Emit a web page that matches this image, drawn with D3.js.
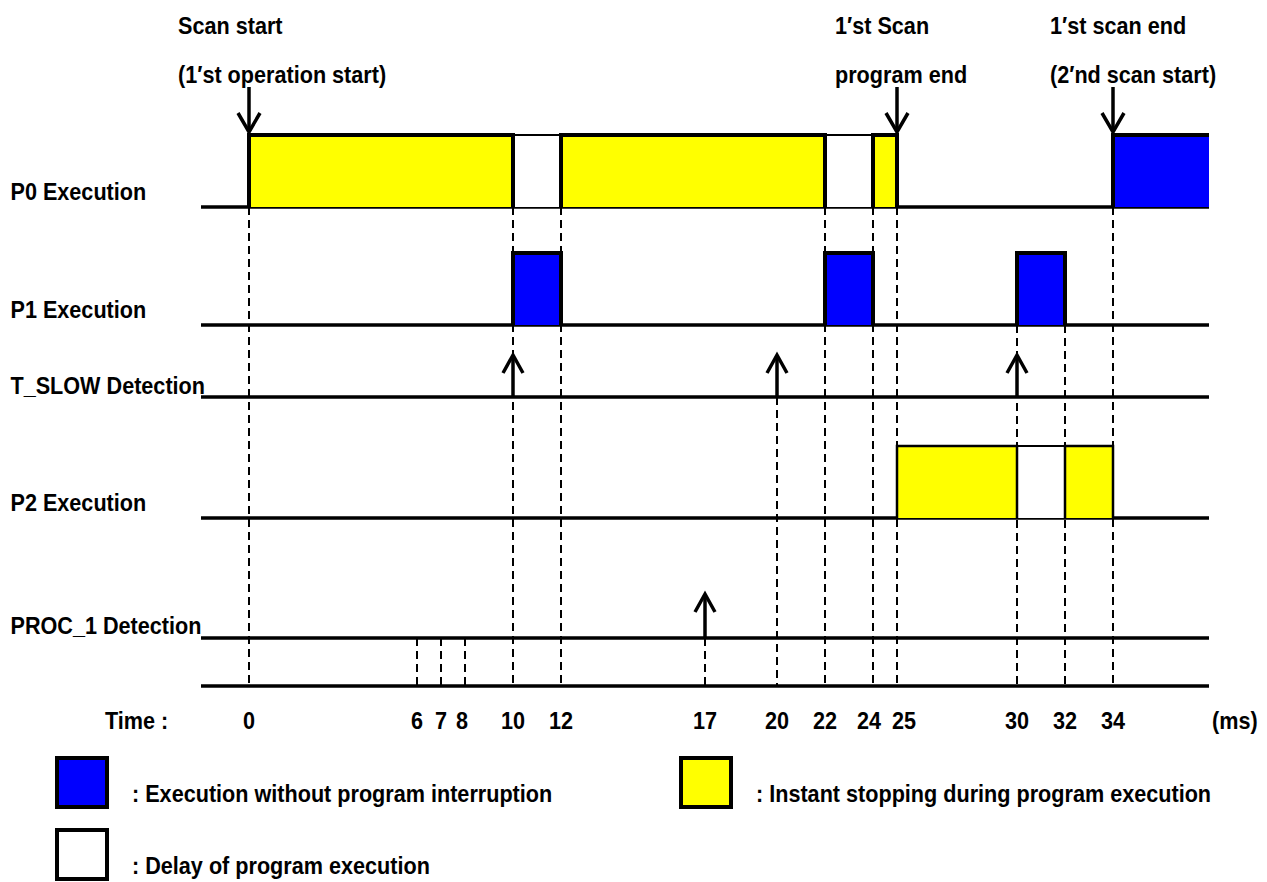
<!DOCTYPE html>
<html>
<head>
<meta charset="utf-8">
<script src="https://cdn.jsdelivr.net/npm/d3@7"></script>
<style>
  html, body { margin: 0; padding: 0; background: #fff; }
  svg text { font-family: "Liberation Sans", Arial, sans-serif; font-weight: bold; fill: #000; }
</style>
</head>
<body>
<svg id="chart" width="1267" height="882"></svg>
<script>
// ---------- data ----------
const rowNames = ["P0 Execution", "P1 Execution", "T_SLOW Detection", "P2 Execution", "PROC_1 Detection"];
const tickTimes = [0, 6, 7, 8, 10, 12, 17, 20, 22, 24, 25, 30, 32, 34];
const timeLabel = "Time :";
const unitLabel = "(ms)";

// blocks: [start, end, kind]  kind: run = blue, stop = yellow, delay = white
const p0Blocks = [[0, 10, "stop"], [10, 12, "delay"], [12, 22, "stop"], [22, 24, "delay"], [24, 25, "stop"], [34, 38, "run"]];
const p1Blocks = [[10, 12, "run"], [22, 24, "run"], [30, 32, "run"]];
const p2Blocks = [[25, 30, "stop"], [30, 32, "delay"], [32, 34, "stop"]];

const tslowEvents = [10, 20, 30];
const proc1Events = [17];

const markerTimes = [0, 25, 34];
const markerLines = [["Scan start", "(1\u2032st operation start)"], ["1\u2032st Scan", "program end"], ["1\u2032st scan end", "(2\u2032nd scan start)"]];

// dashed guide lines, grouped by the row they start from
const guidesFromP0 = [0, 10, 12, 22, 24, 25, 34];
const guidesFromP1 = [30, 32];
const guidesFromTslow = [20];
const guidesFromProc1 = [6, 7, 8, 17];

const legendKinds = ["run", "stop", "delay"];
const legendTexts = [": Execution without program interruption", ": Instant stopping during program execution", ": Delay of program execution"];

// ---------- layout ----------
const svg = d3.select("#chart");
// the original timeline is not drawn to scale: piecewise-linear time scale
const x = d3.scaleLinear()
  .domain([-2, 0, 6, 12, 17, 38])
  .range([201, 249, 417, 561, 705, 1209]);

const rowBase = { P0: 207, P1: 325, TS: 397, P2: 518, PR: 638, AX: 686 };
const rowY = [rowBase.P0, rowBase.P1, rowBase.TS, rowBase.P2, rowBase.PR];
const rowLabelDy = [-7, -7, -3, -7, -4];
const barH = 72;
const colors = { run: "#0000ff", stop: "#ffff00", delay: "#ffffff" };
const fontSize = 23;
const sx = 0.94;
const tickLabelShift = { 8: -3, 24: -4, 25: 7 };

function txt(g, s, px, py, anchor) {
  return g.append("text")
    .attr("transform", `translate(${px},${py}) scale(${sx},1)`)
    .attr("text-anchor", anchor || "start")
    .attr("font-size", fontSize)
    .text(s);
}

// dashed guides (beneath everything)
const gG = svg.append("g").attr("stroke", "#000").attr("stroke-width", 2).attr("stroke-dasharray", "8,5");
function guides(times, y0) {
  gG.selectAll(null).data(times).enter().append("line")
    .attr("x1", d => x(d)).attr("x2", d => x(d))
    .attr("y1", y0).attr("y2", rowBase.AX);
}
guides(guidesFromP0, rowBase.P0);
guides(guidesFromP1, rowBase.P1);
guides(guidesFromTslow, rowBase.TS);
guides(guidesFromProc1, rowBase.PR);

// baselines
const baseG = svg.append("g").attr("stroke", "#000").attr("stroke-width", 3.5);
baseG.selectAll(null).data(rowY.concat([rowBase.AX])).enter().append("line")
  .attr("x1", x(-2)).attr("x2", x(38))
  .attr("y1", d => d).attr("y2", d => d);

// blocks
function drawBlocks(blocks, base, thick) {
  const g = svg.append("g");
  blocks.filter(b => b[2] === "delay").forEach(b => {
    g.append("rect").attr("x", x(b[0])).attr("y", base - barH)
      .attr("width", x(b[1]) - x(b[0])).attr("height", barH).attr("fill", "#fff");
    g.append("line").attr("x1", x(b[0])).attr("x2", x(b[1]))
      .attr("y1", base - barH).attr("y2", base - barH)
      .attr("stroke", "#000").attr("stroke-width", 2);
  });
  blocks.filter(b => b[2] !== "delay").forEach(b => {
    const open = b[1] >= 38;
    const x0 = x(b[0]), x1 = x(b[1]), yT = base - barH;
    g.append("rect").attr("x", x0).attr("y", yT)
      .attr("width", x1 - x0).attr("height", barH)
      .attr("fill", colors[b[2]]);
    const path = open ? `M${x0},${base}V${yT}H${x1}` : `M${x0},${base}V${yT}H${x1}V${base}`;
    g.append("path").attr("d", path).attr("fill", "none")
      .attr("stroke", "#000").attr("stroke-width", thick).attr("stroke-linecap", "butt");
  });
}
drawBlocks(p0Blocks, rowBase.P0, 4);
drawBlocks(p1Blocks, rowBase.P1, 4);
drawBlocks(p2Blocks, rowBase.P2, 2.5);

// up arrows
function upArrows(times, base, tipY) {
  const g = svg.append("g").attr("stroke", "#000").attr("stroke-width", 3.5).attr("fill", "none");
  times.forEach(t => {
    const cx = x(t);
    g.append("line").attr("x1", cx).attr("x2", cx).attr("y1", base).attr("y2", tipY + 1);
    g.append("path").attr("d", `M${cx - 10},${tipY + 18}L${cx},${tipY}L${cx + 10},${tipY + 18}`);
  });
}
upArrows(tslowEvents, rowBase.TS, 355);
upArrows(proc1Events, rowBase.PR, 594);

// down arrows + marker texts
const mg = svg.append("g");
markerTimes.forEach((t, i) => {
  const cx = x(t);
  mg.append("line").attr("x1", cx).attr("x2", cx).attr("y1", 87).attr("y2", 131)
    .attr("stroke", "#000").attr("stroke-width", 3.5);
  mg.append("path").attr("d", `M${cx - 11},${113}L${cx},${132}L${cx + 11},${113}`)
    .attr("stroke", "#000").attr("stroke-width", 3.5).attr("fill", "none");
});
const markerTextX = [178, 835, 1050];
markerLines.forEach((lines, i) => {
  lines.forEach((s, j) => txt(mg, s, markerTextX[i], 34 + j * 49));
});

// row labels: right end of the longest label sits near the start of the lines
const lblG = svg.append("g");
const probe = txt(lblG, "T_SLOW Detection", 0, -100);
const labelX = 205 - probe.node().getComputedTextLength() * sx;
probe.remove();
rowNames.forEach((s, i) => txt(lblG, s, labelX, rowY[i] + rowLabelDy[i]));

// time axis labels
const axG = svg.append("g");
txt(axG, timeLabel, 105, 729);
tickTimes.forEach(t => txt(axG, String(t), x(t) + (tickLabelShift[t] || 0), 729, "middle"));
txt(axG, unitLabel, 1212, 729);

// legend
const legPos = [[57, 758], [681, 758], [57, 830]];
const lg = svg.append("g");
legendKinds.forEach((k, i) => {
  lg.append("rect").attr("x", legPos[i][0]).attr("y", legPos[i][1]).attr("width", 50).attr("height", 49)
    .attr("fill", colors[k]).attr("stroke", "#000").attr("stroke-width", 4);
  txt(lg, legendTexts[i], legPos[i][0] + 75, legPos[i][1] + 44);
});
</script>
</body>
</html>
